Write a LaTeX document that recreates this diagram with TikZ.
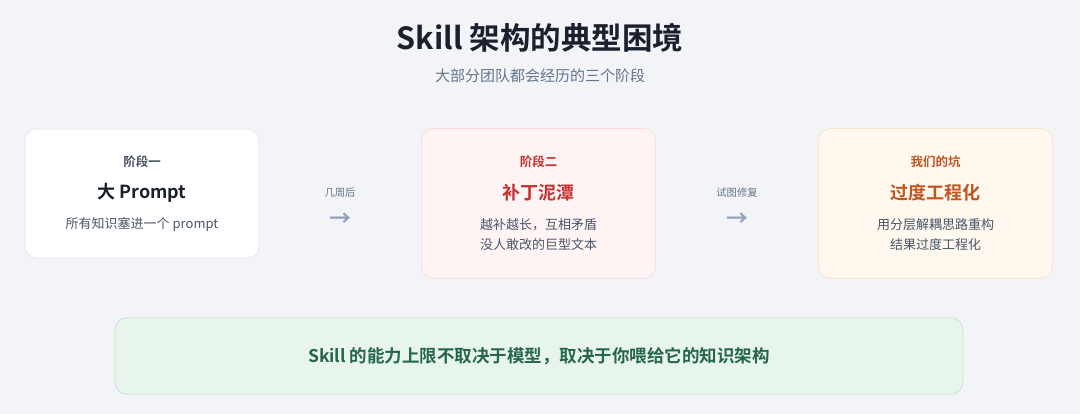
\documentclass[tikz,border=0pt]{standalone}
\usepackage{fontspec}
\setmainfont{Noto Sans CJK SC}[BoldFont={Noto Sans CJK SC Bold}]
\usetikzlibrary{positioning}

\definecolor{bgcol}{HTML}{F3F4F7}
\definecolor{inkdark}{HTML}{1A202C}
\definecolor{inkgrey}{HTML}{4A5568}
\definecolor{inksub}{HTML}{64748B}
\definecolor{inkarrow}{HTML}{94A3B8}
\definecolor{inkred}{HTML}{C53030}
\definecolor{inkorange}{HTML}{C05621}
\definecolor{inkgreen}{HTML}{276749}
\definecolor{linegrey}{HTML}{E6E8EC}
\definecolor{fillred}{HTML}{FFF4F4}
\definecolor{linered}{HTML}{FBDCDC}
\definecolor{fillorange}{HTML}{FFF8EE}
\definecolor{lineorange}{HTML}{F8E6CC}
\definecolor{fillgreen}{HTML}{E7F5EC}
\definecolor{linegreen}{HTML}{C4E2CF}

\tikzset{
    stagebox/.style={rounded corners=12pt, line width=0.8pt, minimum width=234pt},
    tag/.style={font=\bfseries\fontsize{12.5}{14}\selectfont},
    head/.style={font=\bfseries\fontsize{18}{22}\selectfont},
    desc/.style={font=\fontsize{13}{20}\selectfont, text=inkgrey, align=center},
    hint/.style={font=\fontsize{10.3}{12}\selectfont, text=inksub},
    arrowsym/.style={font=\bfseries\fontsize{22}{24}\selectfont, text=inkarrow}
}

\begin{document}
\begin{tikzpicture}[x=1pt, y=-1pt]
    \fill[bgcol] (0, 0) rectangle (1080, 414);
    \useasboundingbox (0, 0) rectangle (1080, 414);

    % title
    \node (title) at (540, 38) {\bfseries\fontsize{30.5}{36}\selectfont\color{inkdark}Skill 架构的典型困境};
    \node (subtitle) at (540, 76) {\fontsize{15}{18}\selectfont\color{inksub}大部分团队都会经历的三个阶段};

    % stage boxes
    \node[stagebox, draw=linegrey, fill=white, minimum height=129pt] (one) at (142, 193.5) {};
    \node[stagebox, draw=linered, fill=fillred, minimum height=150pt] (two) at (538.5, 203.5) {};
    \node[stagebox, draw=lineorange, fill=fillorange, minimum height=150pt] (three) at (935.5, 203.5) {};

    \node[tag, text=inkgrey] (onetag) at (142, 162) {阶段一};
    \node[head, text=inkdark] (onehead) at (142, 193) {大 Prompt};
    \node[desc] (onedesc) at (142, 224) {所有知识塞进一个 prompt};

    \node[tag, text=inkred] (twotag) at (538.5, 162) {阶段二};
    \node[head, text=inkred] (twohead) at (538.5, 193) {补丁泥潭};
    \node[desc] (twodesc) at (538.5, 235) {越补越长，互相矛盾\\没人敢改的巨型文本};

    \node[tag, text=inkorange] (threetag) at (935.5, 162) {我们的坑};
    \node[head, text=inkorange] (threehead) at (935.5, 193) {过度工程化};
    \node[desc] (threedesc) at (935.5, 235) {用分层解耦思路重构\\结果过度工程化};

    % transitions
    \node[hint] (weeks) at (340, 193) {几周后};
    \node[arrowsym] (arrowa) at (340, 220) {→};
    \node[hint] (repair) at (737, 193) {试图修复};
    \node[arrowsym] (arrowb) at (737, 220) {→};

    % bottom line
    \node[rounded corners=12pt, line width=0.8pt, draw=linegreen, fill=fillgreen,
        minimum width=848pt, minimum height=76pt] (summary) at (539, 356) {};
    \node[font=\bfseries\fontsize{17.5}{20}\selectfont, text=inkgreen] (summarytext) at (539, 356)
        {Skill 的能力上限不取决于模型，取决于你喂给它的知识架构};
\end{tikzpicture}
\end{document}
